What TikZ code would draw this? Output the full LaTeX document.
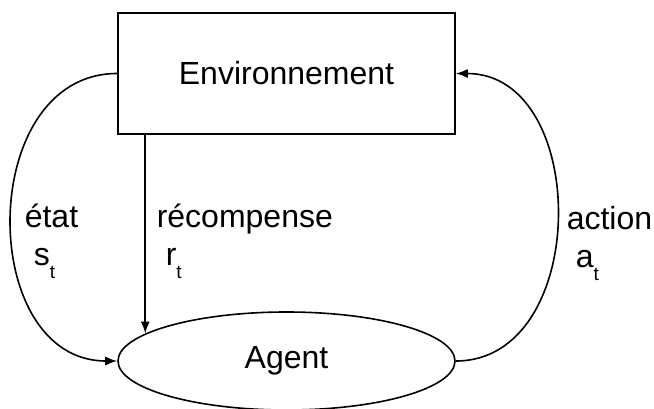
\documentclass[tikz,border=0pt]{standalone}
\usepackage{fontspec}
\setmainfont{Liberation Sans}
\usetikzlibrary{positioning}
\usetikzlibrary{shapes,arrows.meta}
\tikzset{
	-{Latex[length=12pt,width=9pt]},
	every path/.style={line width=1.6pt},
	box/.style ={rectangle, draw, minimum width=337pt, minimum height=121pt, inner sep=0pt},
	actor/.style ={ellipse, draw, minimum width=337pt, minimum height=98pt, inner sep=0pt},
	el/.style = {inner sep=0pt, align=left, anchor=base west}
}
\newcommand{\tidx}[1]{\raisebox{-13pt}{\fontsize{19}{22}\selectfont #1}}

\begin{document}
\begin{tikzpicture}[x=1pt,y=1pt,font=\fontsize{32}{38}\selectfont]
	\useasboundingbox (0,0) rectangle (654,408);
	% Environnement et agent
	\node[box] (env) at (286.5,334.5) {Environnement};
	\node[actor] (agent) at (286.5,47) {Agent};
	
	\node[el] (state) at (24,143) {état\\\hspace*{9pt}s\tidx{t}};
	\node[el] (reward) at (156,143) {récompense\\\hspace*{9pt}r\tidx{t}};
	\node[el] (action) at (566,141) {action\\\hspace*{9pt}a\tidx{t}};
	
	\path (env.west) edge[out=180, in=180, distance=141pt] (agent.west);
	\path (agent.169 |- env.south) edge (agent.169);
	\path (agent.east) edge[out=0, in=0, distance=135pt] (env.east);
\end{tikzpicture}
\end{document}
